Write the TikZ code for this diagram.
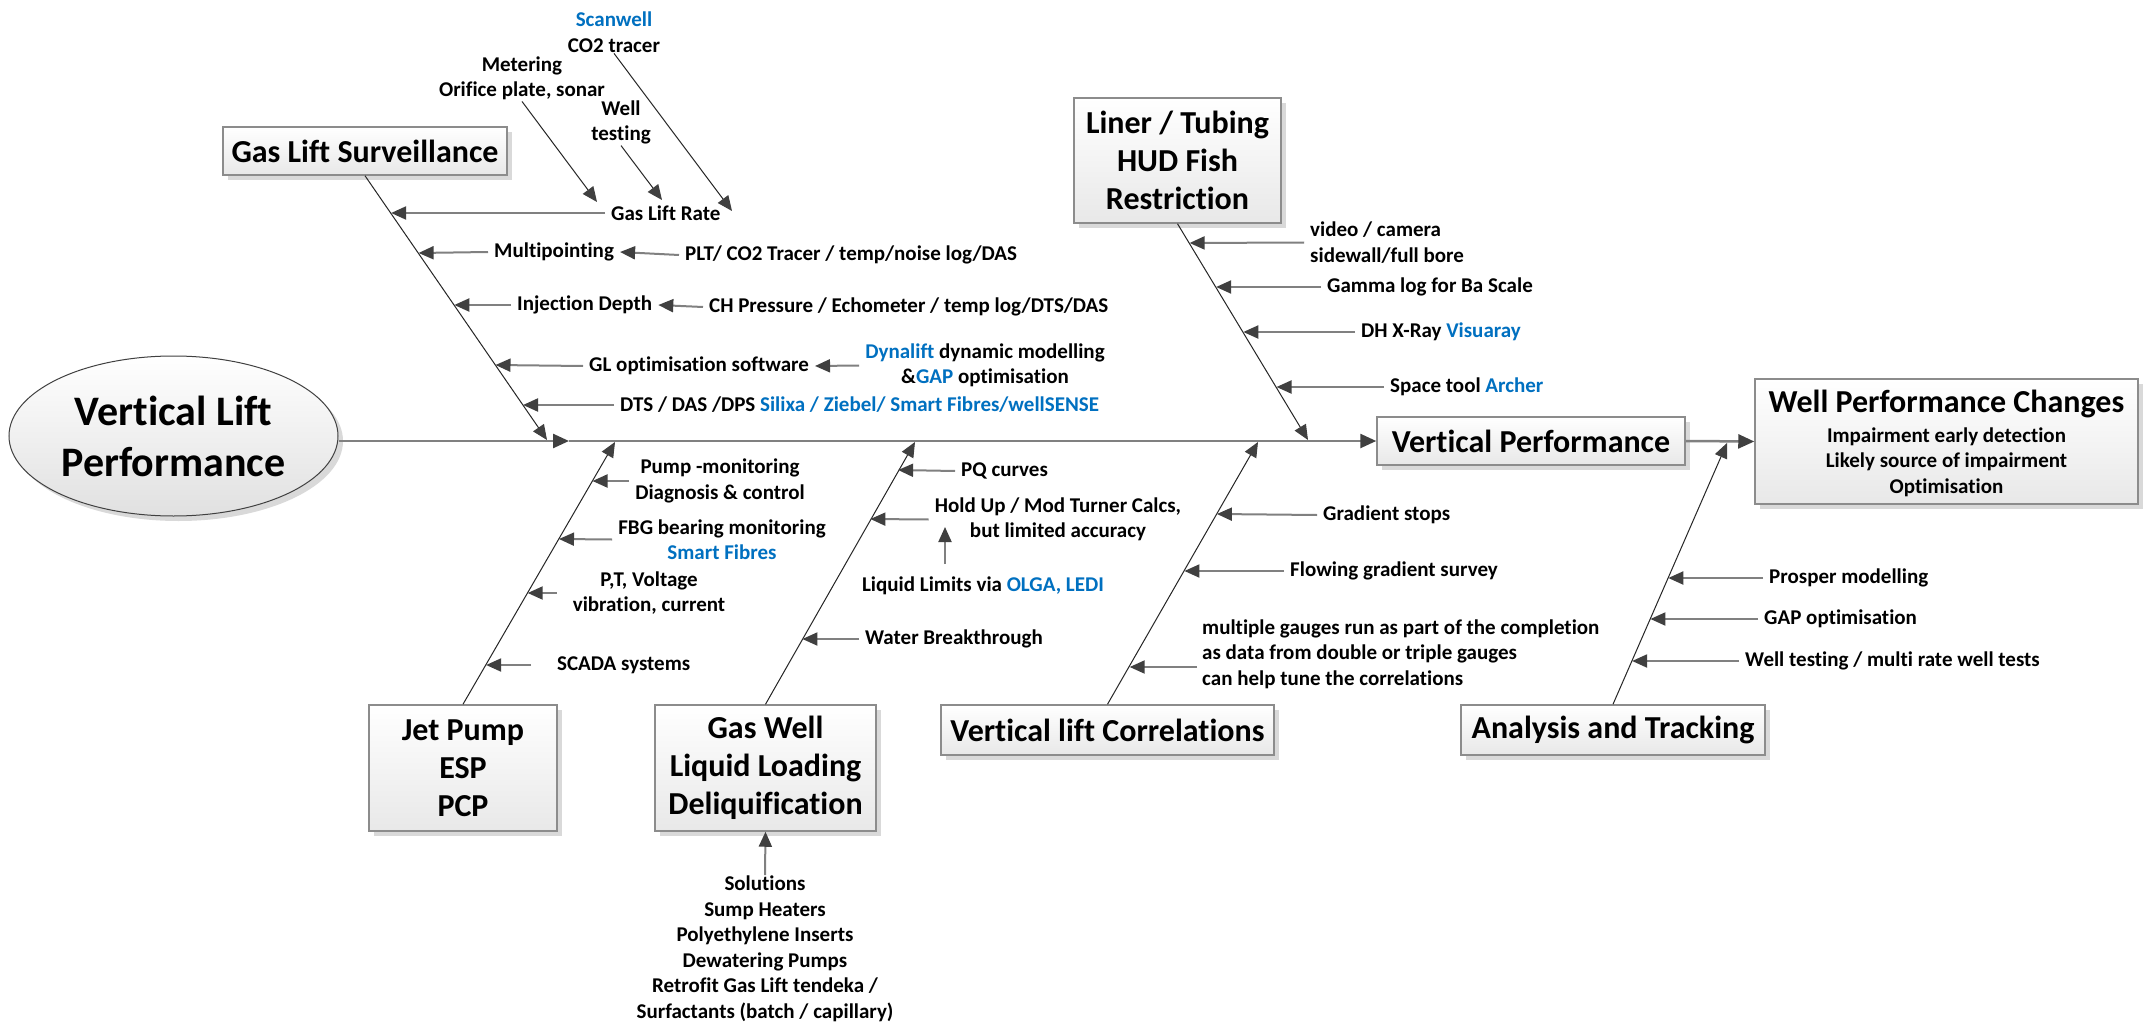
\documentclass[tikz,border=0pt]{standalone}
\usepackage{fontspec}
\setmainfont{Carlito}[Ligatures={NoCommon}]
\usetikzlibrary{arrows.meta,shadows,shapes.geometric,calc}
\definecolor{cblue}{HTML}{0070C0}
\definecolor{adark}{HTML}{404040}
\definecolor{agray}{HTML}{808080}
\definecolor{bord}{HTML}{8C8C8C}
\newcommand{\blu}[1]{\textcolor{cblue}{#1}}
\newcommand{\fsBig}{\fontsize{32}{38}\selectfont\bfseries}
\newcommand{\fsHuge}{\fontsize{42}{51}\selectfont\bfseries}
\newcommand{\fsSm}{\fontsize{21}{25.5}\selectfont\bfseries}
\begin{document}
\begin{tikzpicture}[x=1pt,y=-1pt,
  box/.style={draw=bord, line width=1.5pt, top color=white, bottom color=black!9,
    drop shadow={shadow xshift=5pt, shadow yshift=-5pt, fill=black!15, opacity=1},
    inner sep=0pt, align=center, font=\fsBig},
  lbl/.style={font=\fsSm, inner xsep=6pt, inner ysep=1pt, align=center},
  harr/.style={draw=agray, line width=2pt, -{Triangle[length=15pt,width=13pt,color=adark]}},
  bone/.style={draw=black!85, line width=1pt, -{Triangle[length=15pt,width=13pt,color=adark]}},
  spine/.style={draw=agray, line width=2.5pt, -{Triangle[length=16pt,width=14pt,color=adark]}}
]
\useasboundingbox (0,0) rectangle (2147,1027);
\fill[white] (0,0) rectangle (2147,1027);

% ---------- main nodes ----------
\node[ellipse, draw=black!75, line width=1pt, top color=white, bottom color=black!12,
  drop shadow={shadow xshift=5pt, shadow yshift=-5pt, fill=black!15, opacity=1},
  minimum width=329pt, minimum height=160pt, inner sep=0pt, align=center, font=\fsHuge]
  (ell) at (173.5,436) {Vertical Lift\\Performance};
\node[box, minimum width=284pt, minimum height=48pt] (gls) at (365,151) {Gas Lift Surveillance};
\node[box, minimum width=207pt, minimum height=125pt] (liner) at (1177.5,160.5) {Liner / Tubing\\HUD Fish\\Restriction};
\node[box, minimum width=308pt, minimum height=48pt] (vp) at (1531,441) {Vertical Performance};
\node[box, minimum width=383pt, minimum height=125pt] (wpc) at (1946.5,441.5) {};
\node[font=\fsBig, inner sep=0pt] (wpct) at (1946.5,404) {Well Performance Changes};
\node[lbl] (wpcs) at (1946.5,462) {Impairment early detection\\Likely source of impairment\\Optimisation};
\node[box, minimum width=188pt, minimum height=126pt] (jp) at (463,768) {\fontsize{32}{37}\selectfont\bfseries Jet Pump\\ESP\\PCP};
\node[box, minimum width=221pt, minimum height=126pt] (gw) at (765.5,768) {\fontsize{32}{38.5}\selectfont\bfseries Gas Well\\Liquid Loading\\Deliquification};
\node[box, minimum width=333pt, minimum height=50pt] (vlc) at (1107.5,730) {Vertical lift Correlations};
\node[box, minimum width=304pt, minimum height=50pt] (at) at (1613,730) {Analysis and Tracking};

% ---------- coordinates ----------
\coordinate (sp1) at (569,441);
\coordinate (glTip) at (547,440);
\coordinate (lnTip) at (1308,440);
\coordinate (jpTip) at (615,442);
\coordinate (gwTip) at (915,442);
\coordinate (vlcTip) at (1258,442);
\coordinate (atTip) at (1727,443);
\coordinate (gA) at (732,211);
\coordinate (gB) at (597,202);
\coordinate (gC) at (662,200);
\coordinate (g1) at (391.1,213);
\coordinate (g2) at (418.6,253);
\coordinate (g3) at (454.3,305);
\coordinate (g4) at (495.5,365);
\coordinate (g5) at (523,405);
\coordinate (l1) at (1189.6,243);
\coordinate (l2) at (1216.1,287);
\coordinate (l3) at (1243.3,332);
\coordinate (l4) at (1276.5,387);
\coordinate (j1) at (592.5,481);
\coordinate (j2) at (559,539);
\coordinate (j3) at (527.7,593);
\coordinate (j4) at (486.1,665);
\coordinate (w1) at (898.1,470);
\coordinate (w2) at (870.4,519);
\coordinate (w3) at (802.4,639);
\coordinate (c1) at (1216.9,514);
\coordinate (c2) at (1184.4,571);
\coordinate (c3) at (1129.7,667);
\coordinate (a1) at (1668.3,578);
\coordinate (a2) at (1650.4,619);
\coordinate (a3) at (1632.1,661);
\coordinate (liqtop) at (945,564);
\coordinate (holdbot) at (945,527);
\coordinate (mstart) at (1197,667);

% ---------- labels ----------
\node[lbl] (scan) at (614,32) {\blu{Scanwell}\\CO2 tracer};
\node[lbl] (meter) at (522,78.5) {Metering\\Orifice plate, sonar};
\node[lbl] (wtest) at (621,122.5) {Well\\testing};
\node[lbl, anchor=west] (glr) at (605,213) {Gas Lift Rate};
\node[lbl, anchor=west] (multi) at (488,252) {Multipointing};
\node[lbl, anchor=west] (plt) at (679,255) {PLT/ CO2 Tracer / temp/noise log/DAS};
\node[lbl, anchor=west] (inj) at (511,305) {Injection Depth};
\node[lbl, anchor=west] (chp) at (703,307) {CH Pressure / Echometer / temp log/DTS/DAS};
\node[lbl, anchor=west] (glo) at (583,366) {GL optimisation software};
\node[lbl] (dyn) at (985,365.5) {\blu{Dynalift} dynamic modelling\\\&\blu{GAP} optimisation};
\node[lbl, anchor=west] (dts) at (614,405) {DTS / DAS /DPS \blu{Silixa / Ziebel/ Smart Fibres/wellSENSE}};

\node[lbl, anchor=west, align=left] (video) at (1304,242.5) {video / camera\\sidewall/full bore};
\node[lbl, anchor=west] (gamma) at (1321,287) {Gamma log for Ba Scale};
\node[lbl, anchor=west] (xray) at (1355,332) {DH X-Ray \blu{Visuaray}};
\node[lbl, anchor=west] (space) at (1384,387) {Space tool \blu{Archer}};

\node[lbl] (pump) at (720,481) {Pump -monitoring\\Diagnosis \& control};
\node[lbl] (fbg) at (722,539.5) {FBG bearing monitoring\\\blu{Smart Fibres}};
\node[lbl] (ptv) at (649,593) {P,T, Voltage\\vibration, current};
\node[lbl, anchor=west] (scada) at (551,665) {SCADA systems};

\node[lbl, anchor=west] (pq) at (955,471) {PQ curves};
\node[lbl] (hold) at (1058,519.5) {Hold Up / Mod Turner Calcs,\\but limited accuracy};
\node[lbl] (liq) at (983,586) {Liquid Limits via \blu{OLGA, LEDI}};
\node[lbl, anchor=west] (water) at (859,639) {Water Breakthrough};
\node[lbl] (sol) at (765,949) {Solutions\\Sump Heaters\\Polyethylene Inserts\\Dewatering Pumps\\Retrofit Gas Lift tendeka /\\Surfactants (batch / capillary)};

\node[lbl, anchor=west] (grad) at (1317,515) {Gradient stops};
\node[lbl, anchor=west] (flow) at (1284,571) {Flowing gradient survey};
\node[lbl, anchor=west, align=left] (mult) at (1196,654) {multiple gauges run as part of the completion\\as data from double or triple gauges\\can help tune the correlations};

\node[lbl, anchor=west] (pros) at (1763,578) {Prosper modelling};
\node[lbl, anchor=west] (gapo) at (1758,619) {GAP optimisation};
\node[lbl, anchor=west] (wtt) at (1739,661) {Well testing / multi rate well tests};

% ---------- spine ----------
\draw[spine] (ell.east |- sp1) -- (sp1);
\draw[spine] (sp1) -- (vp.west);
\draw[spine] (vp.east) -- (wpc.west);

% ---------- bones ----------
\draw[bone] (gls.south) -- (glTip);
\draw[bone] (liner.south) -- (lnTip);
\draw[bone] (jp.north) -- (jpTip);
\draw[bone] (gw.north) -- (gwTip);
\draw[bone] (vlc.north) -- (vlcTip);
\draw[bone] (at.north) -- (atTip);

% ---------- cause arrows ----------
\draw[bone] (scan.south) -- (gA);
\draw[bone] (meter.south) -- (gB);
\draw[bone] (wtest.south) -- (gC);
\draw[harr] (glr.west) -- (g1);
\draw[harr] (multi.west) -- (g2);
\draw[harr] (plt.west) -- (multi.east);
\draw[harr] (inj.west) -- (g3);
\draw[harr] (chp.west) -- (inj.east);
\draw[harr] (glo.west) -- (g4);
\draw[harr] (dyn.west) -- (glo.east);
\draw[harr] (dts.west) -- (g5);

\draw[harr] (video.west) -- (l1);
\draw[harr] (gamma.west) -- (l2);
\draw[harr] (xray.west) -- (l3);
\draw[harr] (space.west) -- (l4);

\draw[harr] (pump.west) -- (j1);
\draw[harr] (fbg.west) -- (j2);
\draw[harr, shorten <=10pt] (ptv.west) -- (j3);
\draw[harr, shorten <=20pt] (scada.west) -- (j4);

\draw[harr] (pq.west) -- (w1);
\draw[harr] (hold.west) -- (w2);
\draw[harr] (liqtop) -- (holdbot);
\draw[harr] (water.west) -- (w3);
\draw[harr] (sol.north) -- (gw.south);

\draw[harr] (grad.west) -- (c1);
\draw[harr] (flow.west) -- (c2);
\draw[harr] (mstart) -- (c3);

\draw[harr] (pros.west) -- (a1);
\draw[harr] (gapo.west) -- (a2);
\draw[harr] (wtt.west) -- (a3);
\end{tikzpicture}
\end{document}
